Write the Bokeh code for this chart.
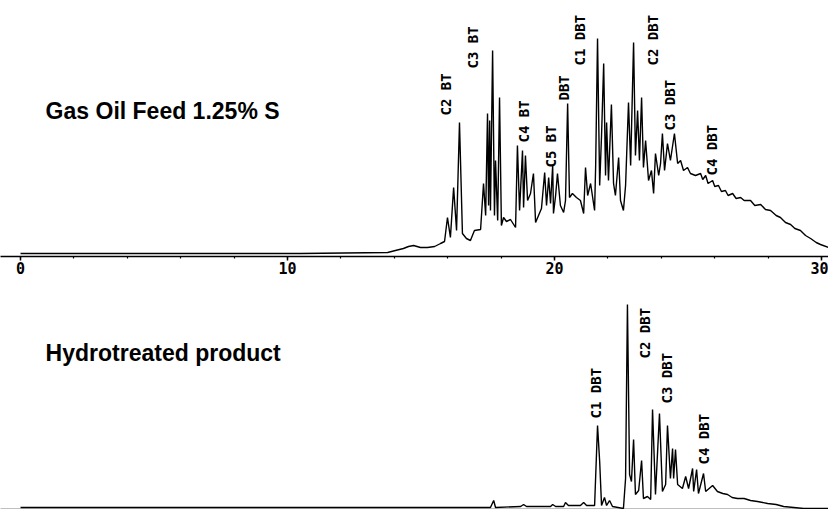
import math
from bokeh.plotting import figure
from bokeh.layouts import column
from bokeh.models import Range1d, SingleIntervalTicker, FixedTicker, ColumnDataSource, Label
from bokeh.core.properties import value
from bokeh.embed import file_html
from bokeh.resources import INLINE

# ---------------- data: retention time (min) and detector response (a.u.) ----------------
feed_time = [0, 3.0, 6.74, 10.49, 13.75, 14.04, 14.34, 14.53, 14.72, 14.98, 15.24, 15.51, 15.73,
             15.88, 15.99, 16.10, 16.22, 16.33, 16.44, 16.55, 16.70, 16.85, 17.00, 17.23, 17.34,
             17.42, 17.49, 17.53, 17.57, 17.60, 17.68, 17.75, 17.79, 17.87, 17.94, 18.01, 18.09,
             18.20, 18.35, 18.54, 18.61, 18.69, 18.80, 18.84, 18.91, 18.99, 19.10, 19.21, 19.29,
             19.40, 19.51, 19.63, 19.70, 19.78, 19.85, 19.93, 19.96, 20.04, 20.11, 20.22, 20.34,
             20.41, 20.49, 20.56, 20.67, 20.82, 20.97, 21.09, 21.16, 21.24, 21.35, 21.50, 21.54,
             21.61, 21.69, 21.76, 21.84, 21.91, 21.95, 22.02, 22.13, 22.21, 22.28, 22.40, 22.47,
             22.58, 22.66, 22.77, 22.85, 22.96, 23.03, 23.11, 23.18, 23.26, 23.33, 23.41, 23.52,
             23.63, 23.71, 23.78, 23.90, 23.97, 24.04, 24.12, 24.23, 24.34, 24.49, 24.61, 24.72,
             24.83, 24.98, 25.09, 25.28, 25.47, 25.55, 25.66, 25.75, 25.92, 26.00, 26.14, 26.25,
             26.40, 26.50, 26.67, 26.80, 26.97, 27.10, 27.34, 27.50, 27.72, 27.90, 28.09, 28.30,
             28.46, 28.65, 28.84, 29.00, 29.21, 29.40, 29.59, 29.80, 29.96, 30.26]
feed_signal = [2, 2, 2, 2, 3, 5, 7, 9, 10, 8, 8, 9, 12,
               14, 38, 18, 68, 25, 133, 22, 17, 15, 25, 26, 72,
               40, 142, 50, 135, 45, 205, 40, 95, 35, 158, 30, 38,
               34, 36, 28, 110, 45, 105, 48, 100, 55, 62, 82, 33,
               40, 47, 83, 50, 78, 52, 90, 42, 60, 82, 50, 43,
               55, 152, 58, 62, 58, 55, 42, 88, 60, 72, 45, 90,
               217, 70, 120, 192, 80, 133, 75, 151, 72, 60, 98, 55,
               45, 70, 153, 90, 213, 100, 145, 95, 158, 88, 115, 75,
               85, 62, 102, 80, 92, 122, 85, 112, 95, 122, 92, 95,
               85, 88, 82, 80, 82, 76, 80, 72, 75, 69, 70, 64,
               65, 60, 62, 57, 58, 55, 55, 50, 51, 46, 45, 40,
               38, 33, 31, 27, 25, 20, 17, 13, 11, 8]

prod_time = [0, 6.74, 14.23, 17.23, 17.60, 17.72, 17.79, 18.73, 18.84, 18.95, 19.85, 19.93, 20.04,
             20.34, 20.41, 20.52, 20.97, 21.09, 21.20, 21.50, 21.61, 21.69, 21.76, 21.87, 21.95,
             22.06, 22.17, 22.58, 22.66, 22.73, 22.81, 22.88, 22.96, 23.03, 23.15, 23.26, 23.33,
             23.48, 23.60, 23.67, 23.78, 23.93, 24.04, 24.16, 24.23, 24.34, 24.42, 24.46, 24.53,
             24.61, 24.79, 24.91, 25.02, 25.17, 25.21, 25.32, 25.39, 25.58, 25.66, 25.92, 26.10,
             26.30, 26.48, 26.65, 26.85, 27.10, 27.34, 27.60, 27.98, 28.30, 28.58, 29.33, 29.96, 30.26]
prod_signal = [1, 1, 1, 1, 1, 8, 1, 2, 4, 2, 2, 4, 2,
               2, 6, 3, 3, 6, 3, 3, 83, 47, 3, 11, 3,
               8, 2, 0, 30, 204, 34, 27, 69, 14, 18, 48, 10,
               12, 9, 99, 14, 95, 17, 24, 83, 30, 60, 30, 59,
               24, 20, 32, 20, 40, 17, 39, 15, 35, 17, 23, 17,
               15, 14, 11, 10, 10, 8, 7, 5, 4, 2, 0, 0, 0]

feed_peak_names = ["C2 BT", "C3 BT", "C4 BT", "C5 BT", "DBT", "C1 DBT", "C2 DBT", "C3 DBT", "C4 DBT"]
feed_peak_time = [15.92, 16.93, 18.84, 19.85, 20.37, 20.97, 23.67, 24.31, 25.88]
feed_peak_level = [140, 187, 113, 88, 155, 190, 190, 125, 80]

prod_peak_names = ["C1 DBT", "C2 DBT", "C3 DBT", "C4 DBT"]
prod_peak_time = [21.54, 23.37, 24.23, 25.58]
prod_peak_level = [90, 150, 105, 44]

feed_title = "Gas Oil Feed  1.25% S"
prod_title = "Hydrotreated product"
title_time = 0.94
feed_title_level = 145
prod_title_level = 156

tick_labels = {0: "0", 10: "10", 20: "20", 30: "30"}

# ---------------- figures ----------------
W = 828
xr = Range1d(-0.75, 30.26)


def make_panel(frame_h, yr, time, signal, names, ptime, plevel, title, title_y, show_axis_labels):
    p = figure(frame_width=W, frame_height=frame_h, x_range=xr, y_range=yr,
               output_backend="svg", toolbar_location=None,
               y_axis_location=None, min_border_left=0, min_border_right=0,
               min_border_top=0, min_border_bottom=0)
    p.outline_line_color = None
    p.background_fill_color = "white"
    p.border_fill_color = "white"
    p.xgrid.visible = False
    p.ygrid.visible = False
    ax = p.xaxis[0]
    ax.axis_line_color = "black"
    ax.axis_line_width = 1.6
    if show_axis_labels:
        ax.ticker = SingleIntervalTicker(interval=10, num_minor_ticks=5)
        ax.major_tick_in = 0
        ax.major_tick_out = 4
        ax.minor_tick_in = 0
        ax.minor_tick_out = 2
        ax.major_tick_line_width = 1.5
        ax.minor_tick_line_width = 1.2
        ax.major_label_standoff = 1
        ax.major_label_overrides = tick_labels
        ax.major_label_text_font = "DejaVu Sans Mono"
        ax.major_label_text_font_style = "bold"
        ax.major_label_text_font_size = "15px"
        ax.major_label_text_color = "black"
    else:
        ax.ticker = FixedTicker(ticks=[])
        ax.major_tick_out = 0
        ax.minor_tick_out = 0
        ax.major_label_standoff = 0
    p.line(time, signal, line_color="black", line_width=1.4)
    src = ColumnDataSource(dict(x=ptime, y=plevel, t=names))
    p.text(x="x", y="y", text="t", source=src, angle=math.pi / 2,
           text_align="left", text_baseline="middle",
           text_font=value("DejaVu Sans Mono"), text_font_size="14px",
           text_font_style="bold", text_color="black")
    p.add_layout(Label(x=title_time, y=title_y, text=title,
                       text_font="Liberation Sans", text_font_style="bold",
                       text_font_size="23px", text_color="black",
                       text_baseline="alphabetic"))
    return p


top = make_panel(256, Range1d(-1, 255), feed_time, feed_signal, feed_peak_names,
                 feed_peak_time, feed_peak_level, feed_title, feed_title_level, True)
bottom = make_panel(233, Range1d(-1, 232), prod_time, prod_signal, prod_peak_names,
                    prod_peak_time, prod_peak_level, prod_title, prod_title_level, False)

layout = column(top, bottom, spacing=0)
open("out.html", "w").write(file_html(layout, INLINE))
